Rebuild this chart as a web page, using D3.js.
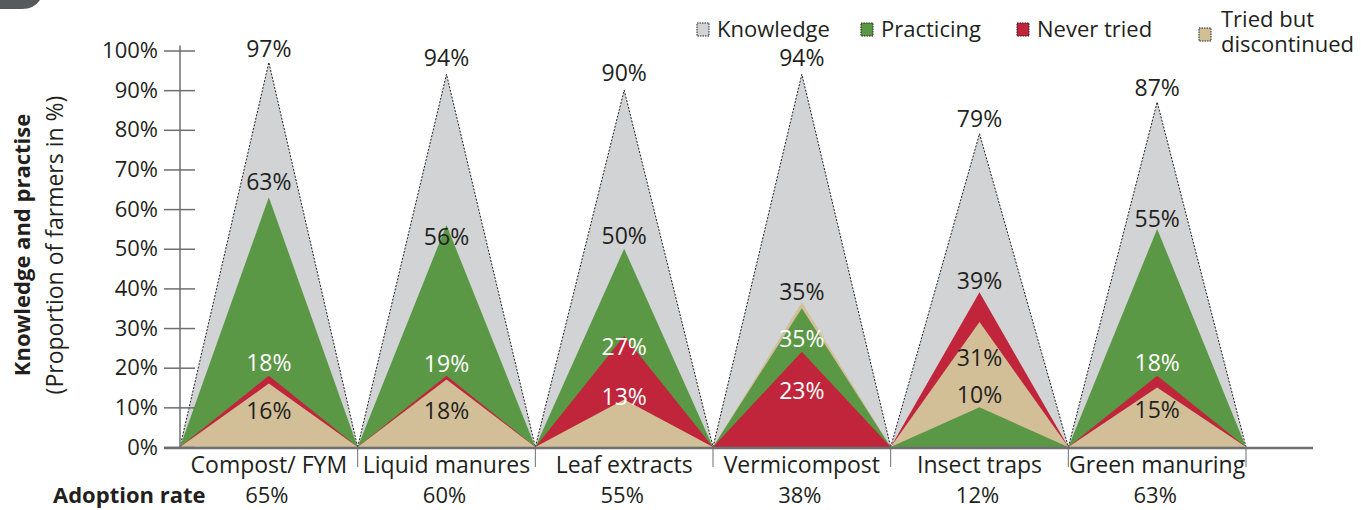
<!DOCTYPE html>
<html>
<head>
<meta charset="utf-8">
<script src="https://cdn.jsdelivr.net/npm/d3@7"></script>
<style>
  body { margin: 0; background: #fff; }
  svg text { font-family: "Open Sans", "Noto Sans", sans-serif; fill: #231f20; }
</style>
</head>
<body>
<svg id="chart" width="1361" height="510"></svg>
<script>
// data
const categories = ["Compost/ FYM", "Liquid manures", "Leaf extracts", "Vermicompost", "Insect traps", "Green manuring"];
const knowledge = [97, 94, 90, 94, 79, 87];
const practicing = [63, 56, 50, 35, 10, 55];
const neverTried = [18, 18, 28, 24, 39, 18];
const discontinued = [16, 17, 12, 36.5, 31.5, 15];
const knowledgeLabels = ["97%", "94%", "90%", "94%", "79%", "87%"];
const practicingLabels = ["63%", "56%", "50%", "35%", "10%", "55%"];
const neverTriedLabels = ["18%", "19%", "27%", "23%", "39%", "18%"];
const discontinuedLabels = ["16%", "18%", "13%", "35%", "31%", "15%"];
const adoption = ["65%", "60%", "55%", "38%", "12%", "63%"];
const yTicks = [0, 10, 20, 30, 40, 50, 60, 70, 80, 90, 100];

// label nudges (px from the peak to the baseline) and which labels are white
const knowledgeDy = [-5, -8, -9, -8, -7, -6];
const practicingDy = [-7, 20, -5, 39, -4, -2];
const neverTriedDy = [-5, -4, 19, 47, -3, -5];
const discontinuedDy = [35, 39, 6, -2, 44, 30];
const practicingWhite = [false, false, false, true, false, false];
const neverTriedWhite = [true, true, true, true, false, true];
const discontinuedWhite = [false, false, true, false, false, false];

const series = [
  { name: "Knowledge", values: knowledge, labels: knowledgeLabels, dy: knowledgeDy, white: [], color: "#d1d3d4" },
  { name: "Practicing", values: practicing, labels: practicingLabels, dy: practicingDy, white: practicingWhite, color: "#5b9845" },
  { name: "Never tried", values: neverTried, labels: neverTriedLabels, dy: neverTriedDy, white: neverTriedWhite, color: "#c0253b" },
  { name: "Tried but discontinued", values: discontinued, labels: discontinuedLabels, dy: discontinuedDy, white: discontinuedWhite, color: "#d2bf98" }
];

const svg = d3.select("#chart");
const x = d3.scaleLinear().domain([0, categories.length]).range([180, 1246]);
const y = d3.scaleLinear().domain([0, 100]).range([447, 50.5]);
const axisColor = "#6d6e71";

// top-left tab remnant
svg.append("path")
  .attr("d", "M0,0 H40 Q34,9 22,9 H0 Z")
  .attr("fill", "#58595b");

// triangles
const plot = svg.append("g");
categories.forEach(function(c, i) {
  let order = series.slice().sort(function(a, b) { return b.values[i] - a.values[i]; });
  order.forEach(function(s) {
    let v = s.values[i];
    let pts = [[x(i), y(0)], [x(i + 0.5), y(v)], [x(i + 1), y(0)]];
    plot.append("path")
      .attr("d", d3.line()(pts) + "Z")
      .attr("fill", s.color);
    if (s.name === "Knowledge") {
      plot.append("path")
        .attr("d", d3.line()(pts))
        .attr("fill", "none")
        .attr("stroke", "#231f20")
        .attr("stroke-width", 1)
        .attr("stroke-dasharray", "2,1.5");
    }
  });
});

// y axis
let yAxis = d3.axisLeft(y).tickValues(yTicks).tickFormat(function(d) { return d + "%"; })
  .tickSize(16).tickPadding(6);
let yg = svg.append("g").attr("transform", "translate(180,0)").call(yAxis);
yg.select(".domain").remove();
yg.selectAll(".tick line").attr("x1", -16).attr("x2", 15).attr("stroke", axisColor).attr("stroke-width", 1.5);
yg.selectAll(".tick text").style("font-size", "22px").style("font-family", "'Open Sans', sans-serif").attr("fill", "#231f20");
svg.append("line")
  .attr("x1", 180).attr("x2", 180).attr("y1", y(0)).attr("y2", y(100) - 5)
  .attr("stroke", axisColor).attr("stroke-width", 1.5);

// x axis
svg.append("line")
  .attr("x1", 164).attr("x2", 1313).attr("y1", y(0) + 1).attr("y2", y(0) + 1)
  .attr("stroke", axisColor).attr("stroke-width", 2.5);
svg.selectAll(".sep")
  .data(d3.range(1, categories.length + 1))
  .enter().append("line")
  .attr("x1", function(d) { return x(d); }).attr("x2", function(d) { return x(d); })
  .attr("y1", y(0)).attr("y2", y(0) + 20)
  .attr("stroke", axisColor).attr("stroke-width", 1);

svg.selectAll(".cat")
  .data(categories)
  .enter().append("text")
  .attr("x", function(d, i) { return x(i + 0.5); })
  .attr("y", 473)
  .attr("text-anchor", "middle")
  .style("font-size", "23px")
  .text(function(d) { return d; });

// value labels
series.forEach(function(s) {
  categories.forEach(function(c, i) {
    svg.append("text")
      .attr("x", x(i + 0.5))
      .attr("y", y(s.values[i]) + s.dy[i])
      .attr("text-anchor", "middle")
      .style("font-size", "23px")
      .style("fill", s.white[i] ? "#ffffff" : "#231f20")
      .text(s.labels[i]);
  });
});

// adoption rate row
svg.append("text")
  .attr("x", 53).attr("y", 503)
  .style("font-size", "22px").style("font-weight", "bold")
  .text("Adoption rate");
svg.selectAll(".adopt")
  .data(adoption)
  .enter().append("text")
  .attr("x", function(d, i) { return x(i + 0.5) - 2; })
  .attr("y", 503)
  .attr("text-anchor", "middle")
  .style("font-size", "22px")
  .text(function(d) { return d; });

// y axis title
let yt = svg.append("g").attr("transform", "translate(0,245) rotate(-90)");
yt.append("text").attr("x", 0).attr("y", 30)
  .attr("text-anchor", "middle")
  .style("font-size", "22px").style("font-weight", "bold")
  .text("Knowledge and practise");
yt.append("text").attr("x", 0).attr("y", 63)
  .attr("text-anchor", "middle")
  .style("font-size", "23px")
  .text("(Proportion of farmers in %)");

// legend
const legendX = [697, 861, 1017, 1199];
const legend = svg.append("g");
series.forEach(function(s, i) {
  let g = legend.append("g").attr("transform", "translate(" + legendX[i] + "," + (i === 3 ? 28 : 23) + ")");
  g.append("rect").attr("width", 12).attr("height", 13)
    .attr("fill", s.color).attr("stroke", "#231f20")
    .attr("stroke-width", 1).attr("stroke-dasharray", "1.5,1");
  if (i === 3) {
    let t = g.append("text").attr("y", -1).style("font-size", "22px");
    t.append("tspan").attr("x", 22).text("Tried but");
    t.append("tspan").attr("x", 22).attr("dy", 25).text("discontinued");
  } else {
    g.append("text").attr("x", 20).attr("y", 14).style("font-size", "22px").text(s.name);
  }
});
</script>
</body>
</html>
